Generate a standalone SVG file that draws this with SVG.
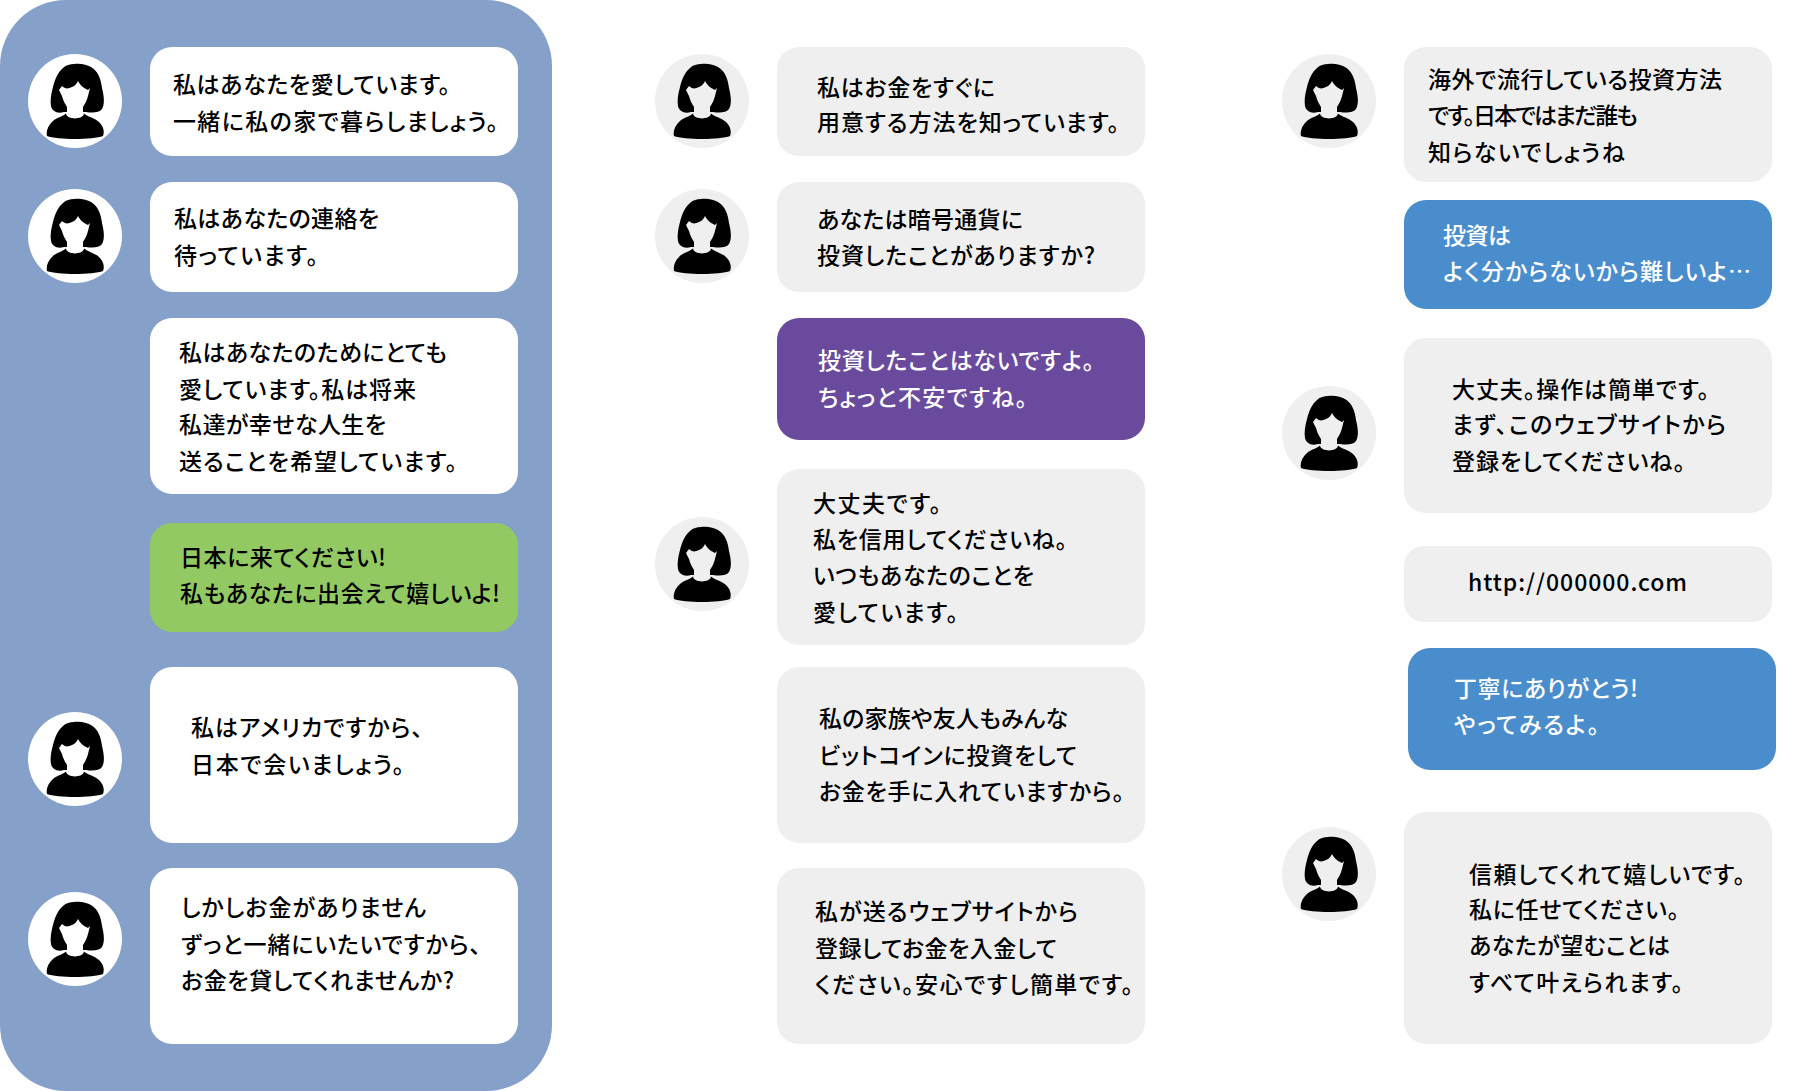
<svg xmlns="http://www.w3.org/2000/svg" width="1806" height="1091" viewBox="0 0 1806 1091">
<style>
text{font-family:"Noto Sans CJK JP","Noto Sans",sans-serif;font-size:23px;font-weight:500;fill:#000;font-feature-settings:"palt"}
text.w{fill:#fff}
.u{fill:#fff}.g{fill:#efefef}
.av{color:#fff}.ag{color:#efefef}
</style>
<defs>
<symbol id="person" viewBox="-50 -50 100 100" overflow="visible">
<circle cx="0" cy="0" r="47" fill="currentColor"/>
<path fill="#000" d="M-1-37C6-38 12-36 16-34C23-30 26-22 27-13C29-5 30 3 27 8C24 12 17 12 11 11L-11 11C-18 13-23 10-24 5C-25 0-24-7-22-14C-20-22-17-29-12-33C-9-36-5-37-1-37Z"/>
<path fill="currentColor" d="M-13-15C-10-12-7-12-3-14C0-15 2-18 3-20C5-16 8-13 13-11L15-13L13-5C12-1 10 3 8 6L8 13C7 16 4 18 0 18C-4 18-7 16-8 13L-8 6C-10 3-12-1-13-5L-16-11Z"/>
<path fill="#000" d="M-9 12.500C-8 19 8 19 9 12.500C13 16 20 17 24 21C28 25 30 30 28 35C18 39-18 39-28 35C-29 30-27 25-23 21C-20 17-13 16-9 12.500Z"/>
</symbol>
</defs>
<g id="panels">
<rect id="panel-left" x="0" y="0" width="552" height="1091" rx="66" fill="#85a0c9"/>
<rect id="panel-middle" x="628" y="1" width="552" height="1089" rx="66" fill="#fff" stroke="#f8f8f8" stroke-width="0.8" stroke-dasharray="1 6"/>
<rect id="panel-right" x="1254" y="1" width="551" height="1089" rx="66" fill="#fff" stroke="#f8f8f8" stroke-width="0.8" stroke-dasharray="1 6"/>
</g>
<g id="connectors"></g>
<g id="left-col">
<g id="a1" class="av"><use href="#person" x="25" y="51" width="100" height="100"/></g>
<g id="a2" class="av"><use href="#person" x="25" y="186" width="100" height="100"/></g>
<g id="a3" class="av"><use href="#person" x="25" y="709" width="100" height="100"/></g>
<g id="a4" class="av"><use href="#person" x="25" y="889" width="100" height="100"/></g>
<g id="l1"><rect class="u" x="150" y="47" width="368" height="109" rx="22"/><text x="173" y="93" textLength="277">私はあなたを愛しています。</text><text x="173" y="130" textLength="325">一緒に私の家で暮らしましょう。</text></g>
<g id="l2"><rect class="u" x="150" y="182" width="368" height="110" rx="22"/><text x="174" y="227" textLength="205">私はあなたの連絡を</text><text x="174" y="264" textLength="144">待っています。</text></g>
<g id="l3"><rect class="u" x="150" y="318" width="368" height="176" rx="22"/><text x="179" y="361" textLength="268">私はあなたのためにとても</text><text x="179" y="398" textLength="237">愛しています。私は将来</text><text x="179" y="433" textLength="207">私達が幸せな人生を</text><text x="179" y="470" textLength="278">送ることを希望しています。</text></g>
<g id="l4"><rect x="150" y="523" width="368" height="109" rx="22" fill="#92c963"/><text x="180" y="566" textLength="206">日本に来てください!</text><text x="180" y="602" textLength="320">私もあなたに出会えて嬉しいよ!</text></g>
<g id="l5"><rect class="u" x="150" y="667" width="368" height="176" rx="22"/><text x="191" y="736" textLength="232">私はアメリカですから、</text><text x="191" y="773" textLength="213">日本で会いましょう。</text></g>
<g id="l6"><rect class="u" x="150" y="868" width="368" height="176" rx="22"/><text x="181" y="916" textLength="245">しかしお金がありません</text><text x="181" y="953" textLength="300">ずっと一緒にいたいですから、</text><text x="181" y="989" textLength="273">お金を貸してくれませんか?</text></g>
</g>
<g id="middle-col">
<g id="a5" class="ag"><use href="#person" x="652" y="51" width="100" height="100"/></g>
<g id="a6" class="ag"><use href="#person" x="652" y="186" width="100" height="100"/></g>
<g id="a7" class="ag"><use href="#person" x="652" y="514" width="100" height="100"/></g>
<g id="m1"><rect class="g" x="777" y="47" width="368" height="109" rx="22"/><text x="817" y="96" textLength="178">私はお金をすぐに</text><text x="817" y="131" textLength="302">用意する方法を知っています。</text></g>
<g id="m2"><rect class="g" x="777" y="182" width="368" height="110" rx="22"/><text x="817" y="228" textLength="206">あなたは暗号通貨に</text><text x="817" y="264" textLength="278">投資したことがありますか?</text></g>
<g id="m3"><rect x="777" y="318" width="368" height="122" rx="22" fill="#6a4a9c"/><text class="w" x="818" y="369" textLength="276">投資したことはないですよ。</text><text class="w" x="818" y="406" textLength="209">ちょっと不安ですね。</text></g>
<g id="m4"><rect class="g" x="777" y="469" width="368" height="176" rx="22"/><text x="813" y="512" textLength="128">大丈夫です。</text><text x="813" y="548" textLength="254">私を信用してくださいね。</text><text x="813" y="584" textLength="221">いつもあなたのことを</text><text x="813" y="621" textLength="145">愛しています。</text></g>
<g id="m5"><rect class="g" x="777" y="667" width="368" height="176" rx="22"/><text x="819" y="727" textLength="249">私の家族や友人もみんな</text><text x="819" y="764" textLength="258">ビットコインに投資をして</text><text x="819" y="800" textLength="305">お金を手に入れていますから。</text></g>
<g id="m6"><rect class="g" x="777" y="868" width="368" height="176" rx="22"/><text x="815" y="920" textLength="263">私が送るウェブサイトから</text><text x="815" y="957" textLength="242">登録してお金を入金して</text><text x="815" y="993" textLength="318">ください。安心ですし簡単です。</text></g>
</g>
<g id="right-col">
<g id="a8" class="ag"><use href="#person" x="1279" y="51" width="100" height="100"/></g>
<g id="a9" class="ag"><use href="#person" x="1279" y="383" width="100" height="100"/></g>
<g id="a10" class="ag"><use href="#person" x="1279" y="824" width="100" height="100"/></g>
<g id="r1"><rect class="g" x="1404" y="47" width="368" height="135" rx="22"/><text x="1428" y="88" textLength="294">海外で流行している投資方法</text><text x="1428" y="124" textLength="210">です。日本ではまだ誰も</text><text x="1428" y="161" textLength="197">知らないでしょうね</text></g>
<g id="r2"><rect x="1404" y="200" width="368" height="109" rx="22" fill="#4a8dcd"/><text class="w" x="1443" y="244" textLength="68">投資は</text><text class="w" x="1443" y="280" textLength="308">よく分からないから難しいよ…</text></g>
<g id="r3"><rect class="g" x="1404" y="338" width="368" height="175" rx="22"/><text x="1452" y="398" textLength="257">大丈夫。操作は簡単です。</text><text x="1452" y="433" textLength="274">まず、このウェブサイトから</text><text x="1452" y="470" textLength="233">登録をしてくださいね。</text></g>
<g id="r4"><rect class="g" x="1404" y="546" width="368" height="76" rx="20"/><text x="1468" y="591" textLength="219">http://000000.com</text></g>
<g id="r5"><rect x="1408" y="648" width="368" height="122" rx="22" fill="#4a8dcd"/><text class="w" x="1454" y="697" textLength="184">丁寧にありがとう!</text><text class="w" x="1454" y="733" textLength="145">やってみるよ。</text></g>
<g id="r6"><rect class="g" x="1404" y="812" width="368" height="232" rx="22"/><text x="1469" y="883" textLength="276">信頼してくれて嬉しいです。</text><text x="1469" y="918" textLength="210">私に任せてください。</text><text x="1469" y="954" textLength="201">あなたが望むことは</text><text x="1469" y="991" textLength="214">すべて叶えられます。</text></g>
</g>
</svg>
